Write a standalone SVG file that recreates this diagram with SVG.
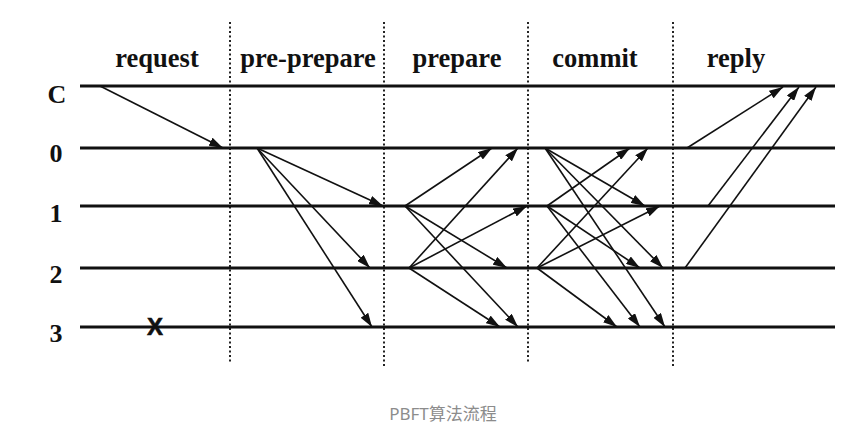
<svg xmlns="http://www.w3.org/2000/svg" width="864" height="437" viewBox="0 0 864 437">
<style>
.hdr{font-family:"Liberation Serif","Times New Roman",serif;font-weight:bold;font-size:26.5px;fill:#111;text-anchor:middle}
.row{font-family:"Liberation Serif","Times New Roman",serif;font-weight:bold;font-size:26px;fill:#111;text-anchor:middle}
.tl{stroke:#111;stroke-width:3.2;fill:none}
.dot{stroke:#222;stroke-width:2;stroke-dasharray:2 2.5;fill:none}
.msg line{stroke:#111;stroke-width:1.6;marker-end:url(#ah)}
.cap{font-family:"Noto Sans","Noto Sans CJK SC",sans-serif;font-size:17px;fill:#8c8c8c;text-anchor:middle}
</style>
<defs>
<marker id="ah" markerUnits="userSpaceOnUse" markerWidth="15" markerHeight="9" refX="14" refY="4.5" orient="auto">
<path d="M0,0 L14,4.5 L0,9 Z" fill="#111"/>
</marker>
</defs>
<rect width="864" height="437" fill="#fff"/>
<g id="phases">
<text class="hdr" x="157" y="67">request</text>
<text class="hdr" x="308" y="67">pre-prepare</text>
<text class="hdr" x="457" y="67">prepare</text>
<text class="hdr" x="595" y="67">commit</text>
<text class="hdr" x="736" y="67">reply</text>
<line class="dot" x1="230" y1="22" x2="230" y2="364"/>
<line class="dot" x1="384" y1="22" x2="384" y2="368"/>
<line class="dot" x1="528" y1="22" x2="528" y2="364"/>
<line class="dot" x1="673" y1="22" x2="673" y2="368"/>
</g>
<g id="node-C">
<text class="row" x="57" y="103">C</text>
<line class="tl" x1="80" y1="86" x2="835" y2="86"/>
</g>
<g id="node-0">
<text class="row" x="56" y="162">0</text>
<line class="tl" x1="80" y1="148" x2="835" y2="148"/>
</g>
<g id="node-1">
<text class="row" x="56" y="222">1</text>
<line class="tl" x1="80" y1="206" x2="835" y2="206"/>
</g>
<g id="node-2">
<text class="row" x="56" y="283">2</text>
<line class="tl" x1="80" y1="268" x2="835" y2="268"/>
</g>
<g id="node-3">
<text class="row" x="56" y="342">3</text>
<line class="tl" x1="80" y1="327" x2="835" y2="327"/>
<text x="155" y="335" font-family="Liberation Sans,Arial,sans-serif" font-weight="bold" font-size="24" fill="#111" text-anchor="middle" stroke="#111" stroke-width="0.6">X</text>
</g>
<g id="connectors" class="msg">
<line x1="100" y1="86" x2="223" y2="148"/>
<line x1="257" y1="148" x2="383" y2="206"/>
<line x1="257" y1="148" x2="370" y2="268"/>
<line x1="257" y1="148" x2="372" y2="327"/>
<line x1="405" y1="206" x2="492" y2="148"/>
<line x1="405" y1="206" x2="507" y2="268"/>
<line x1="405" y1="206" x2="518" y2="327"/>
<line x1="409" y1="268" x2="518" y2="148"/>
<line x1="409" y1="268" x2="527" y2="206"/>
<line x1="409" y1="268" x2="500" y2="327"/>
<line x1="545" y1="148" x2="645" y2="206"/>
<line x1="545" y1="148" x2="663" y2="268"/>
<line x1="545" y1="148" x2="665" y2="327"/>
<line x1="547" y1="206" x2="630" y2="148"/>
<line x1="547" y1="206" x2="640" y2="268"/>
<line x1="547" y1="206" x2="640" y2="327"/>
<line x1="537" y1="268" x2="648" y2="148"/>
<line x1="537" y1="268" x2="660" y2="206"/>
<line x1="537" y1="268" x2="617" y2="327"/>
<line x1="687" y1="148" x2="783" y2="87"/>
<line x1="708" y1="206" x2="799" y2="87"/>
<line x1="685" y1="268" x2="816" y2="87"/>
</g>
<text class="cap" x="443" y="420">PBFT算法流程</text>
</svg>
